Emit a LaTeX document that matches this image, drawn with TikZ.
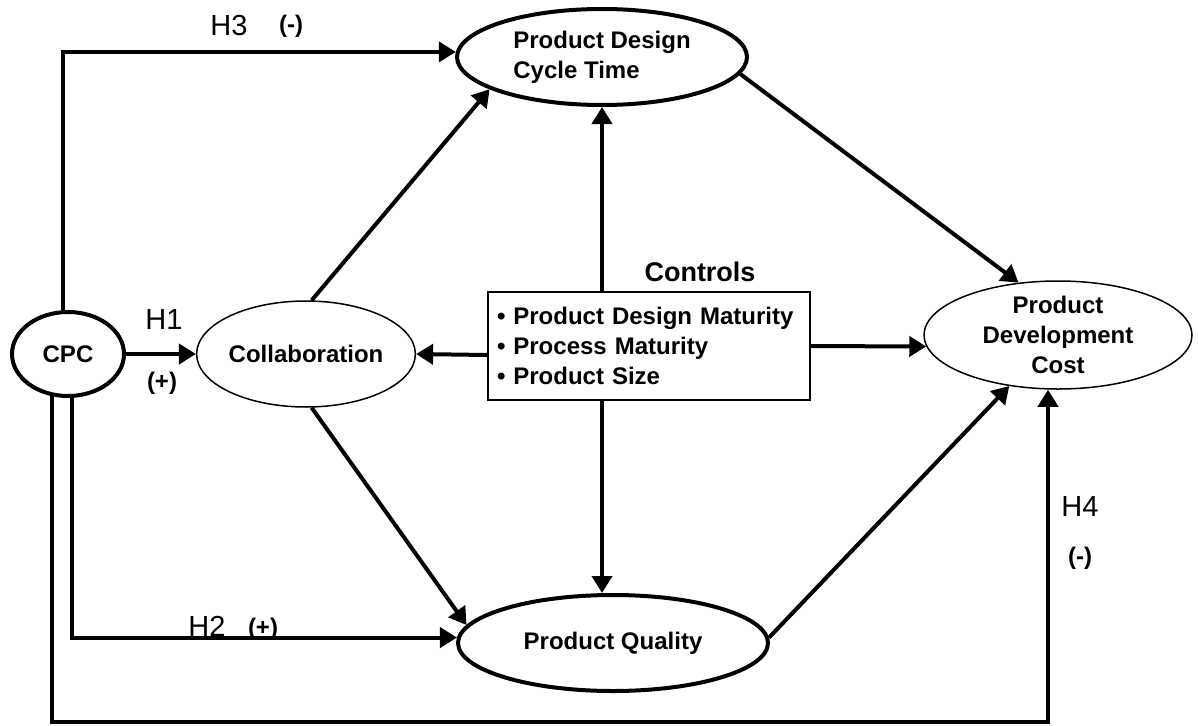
\documentclass[tikz,border=0pt]{standalone}
\usepackage{fontspec}
\setmainfont{Liberation Sans}
\usetikzlibrary{shapes.geometric,arrows.meta}
\begin{document}
\begin{tikzpicture}[x=1pt,y=-1pt,
  every node/.style={font=\fontsize{24}{30}\selectfont\bfseries},
  thickell/.style={ellipse, draw, line width=4pt, inner sep=0pt},
  thinell/.style={ellipse, draw, line width=1.5pt, inner sep=0pt},
  arr/.style={line width=4pt, -{Triangle[length=17pt,width=20pt]}},
  hlab/.style={font=\fontsize{29}{34}\selectfont},
  sign/.style={font=\fontsize{24}{30}\selectfont\bfseries}]
\useasboundingbox (0,0) rectangle (1198,725);
% nodes
\node[thickell, minimum width=112pt, minimum height=84pt] (cpc) at (68,354) {CPC};
\node[thinell, minimum width=196pt, minimum height=106pt] (collab) at (306,354) {Collaboration};
\node[thickell, minimum width=290pt, minimum height=96pt, align=left] (pdct) at (602,57) {Product Design\\Cycle Time};
\node[thinell, minimum width=268pt, minimum height=108pt,
      label={[align=center]center:Product\\Development\\Cost}] (pdc) at (1058,335) {};
\node[thickell, minimum width=310pt, minimum height=96pt] (pq) at (613,643) {Product Quality};
\node[draw, line width=2pt, minimum width=322pt, minimum height=108pt, text width=304pt,
      align=left, inner xsep=9pt] (ctrl) at (649,346)
      {• Product Design Maturity\\• Process Maturity\\• Product Size};
\node[font=\fontsize{27}{32}\selectfont\bfseries] (ctl) at (700,272) {Controls};
% labels
\node[hlab] (h3) at (229,26) {H3};
\node[sign] (h3s) at (291,26) {(-)};
\node[hlab] (h1) at (164,320) {H1};
\node[sign] (h1s) at (162,383) {(+)};
\node[hlab] (h2) at (207,626) {H2};
\node[sign] (h2s) at (263,629) {(+)};
\node[hlab] (h4) at (1080,507) {H4};
\node[sign] (h4s) at (1080,558) {(-)};
% connectors
\coordinate (br) at (1048,722);
\draw[arr] (cpc.97) |- (pdct.178);
\draw[arr] (cpc.east) -- (collab.west);
\draw[arr] (cpc.275) |- (pq.178);
\draw[arr] (cpc.249) |- (br) -- (br |- pdc.south);
\draw[arr] (collab.84) -- (pdct.196);
\draw[arr] (collab.276) -- (pq.173);
\draw[arr] (ctrl.north -| pdct.south) -- (pdct.south);
\draw[arr] (ctrl.south -| pdct.south) -- (pq.north -| pdct.south);
\draw[arr] ([yshift=-9pt]ctrl.west) -- (collab.east);
\draw[arr] (ctrl.east) -- (pdc.185);
\draw[arr] (pdct.-7) -- (pdc.127);
\draw[arr] (pq.2) -- (pdc);
\end{tikzpicture}
\end{document}
